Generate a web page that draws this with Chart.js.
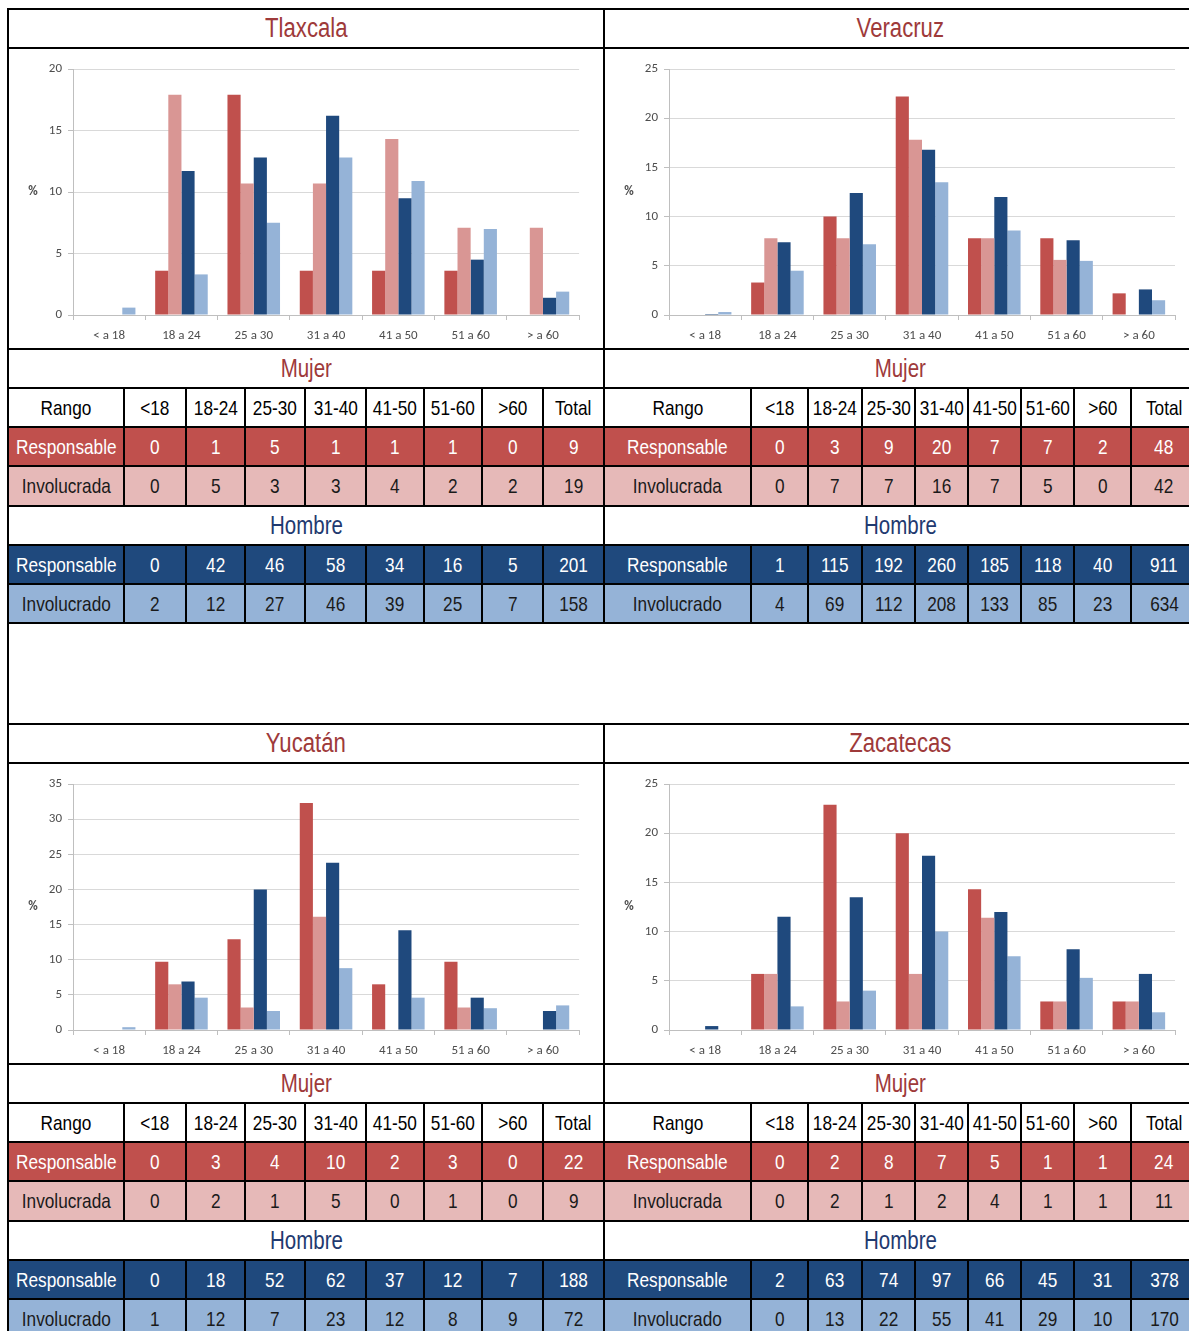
<!DOCTYPE html>
<html lang="es">
<head>
<meta charset="UTF-8">
<script src="https://cdn.jsdelivr.net/npm/chart.js"></script>
<title>Responsables e involucrados por rango de edad</title>
<style>
    html, body {
        margin: 0;
        padding: 0;
        overflow: hidden;
        background: #fff;
    }
    #sheet {
        position: absolute;
        left: 7px;
        top: 8px;
        border-collapse: collapse;
        table-layout: fixed;
        width: 1191px;
        font-family: "Liberation Sans", Arial, sans-serif;
        font-size: 21px;
    }
    #sheet td {
        border: 2px solid #000;
        padding: 0;
        text-align: center;
        vertical-align: middle;
        white-space: nowrap;
        overflow: hidden;
    }
    /* letra angosta tipo Arial Narrow */
    #sheet td span {
        display: inline-block;
        margin: 0 -30px;
        transform: scaleX(0.82);
    }
    #sheet tr.row39 td { height: 37px; }
    #sheet tr.row40 td { height: 38px; }
    #sheet tr.chartrow td { height: 299px; }
    #sheet td.title { font-size: 27px; color: #9e3a3a; }
    #sheet td.mujer { font-size: 25px; color: #9e3a3a; }
    #sheet td.hombre { font-size: 25px; color: #1f3a70; }
    #sheet tr.mr td { background: #c0504d; color: #fff; }
    #sheet tr.mi td { background: #e6b9b8; color: #1a1a1a; }
    #sheet tr.hr td { background: #1f497d; color: #fff; }
    #sheet tr.hi td { background: #95b3d7; color: #1a1a1a; }
    #sheet td.gap {
        height: 99px;
        border-top: none;
        border-bottom: none;
    }
    .chartbox {
        position: relative;
        width: 100%;
        height: 299px;
    }
</style>
</head>
<body>
<table id="sheet">
    <colgroup>
        <col style="width:116px"><col style="width:62px"><col style="width:59px"><col style="width:60px"><col style="width:61px">
        <col style="width:58px"><col style="width:58px"><col style="width:61px"><col style="width:61px">
        <col style="width:147px"><col style="width:57px"><col style="width:54px"><col style="width:53px"><col style="width:53px">
        <col style="width:53px"><col style="width:53px"><col style="width:57px"><col style="width:66px">
    </colgroup>
    <tbody id="sheetBody"></tbody>
</table>

<script>
// categorias de la grafica y encabezados de la tabla
const categories = ['< a 18', '18 a 24', '25 a 30', '31 a 40', '41 a 50', '51 a 60', '> a 60'];
const rangeLabels = ['<18', '18-24', '25-30', '31-40', '41-50', '51-60', '>60'];

const tlaxcalaMujerResp   = [0, 3.6, 17.9, 3.6, 3.6, 3.6, 0];
const tlaxcalaMujerInv    = [0, 17.9, 10.7, 10.7, 14.3, 7.1, 7.1];
const tlaxcalaHombreResp  = [0, 11.7, 12.8, 16.2, 9.5, 4.5, 1.4];
const tlaxcalaHombreInv   = [0.6, 3.3, 7.5, 12.8, 10.9, 7.0, 1.9];

const veracruzMujerResp   = [0, 3.3, 10.0, 22.2, 7.8, 7.8, 2.2];
const veracruzMujerInv    = [0, 7.8, 7.8, 17.8, 7.8, 5.6, 0];
const veracruzHombreResp  = [0.1, 7.4, 12.4, 16.8, 12.0, 7.6, 2.6];
const veracruzHombreInv   = [0.3, 4.5, 7.2, 13.5, 8.6, 5.5, 1.5];

const yucatanMujerResp    = [0, 9.7, 12.9, 32.3, 6.5, 9.7, 0];
const yucatanMujerInv     = [0, 6.5, 3.2, 16.1, 0, 3.2, 0];
const yucatanHombreResp   = [0, 6.9, 20.0, 23.8, 14.2, 4.6, 2.7];
const yucatanHombreInv    = [0.4, 4.6, 2.7, 8.8, 4.6, 3.1, 3.5];

const zacatecasMujerResp  = [0, 5.7, 22.9, 20.0, 14.3, 2.9, 2.9];
const zacatecasMujerInv   = [0, 5.7, 2.9, 5.7, 11.4, 2.9, 2.9];
const zacatecasHombreResp = [0.4, 11.5, 13.5, 17.7, 12.0, 8.2, 5.7];
const zacatecasHombreInv  = [0, 2.4, 4.0, 10.0, 7.5, 5.3, 1.8];

// conteos de las tablas (ultimo valor = Total)
const tlaxcalaCountMR  = [0, 1, 5, 1, 1, 1, 0, 9];
const tlaxcalaCountMI  = [0, 5, 3, 3, 4, 2, 2, 19];
const tlaxcalaCountHR  = [0, 42, 46, 58, 34, 16, 5, 201];
const tlaxcalaCountHI  = [2, 12, 27, 46, 39, 25, 7, 158];

const veracruzCountMR  = [0, 3, 9, 20, 7, 7, 2, 48];
const veracruzCountMI  = [0, 7, 7, 16, 7, 5, 0, 42];
const veracruzCountHR  = [1, 115, 192, 260, 185, 118, 40, 911];
const veracruzCountHI  = [4, 69, 112, 208, 133, 85, 23, 634];

const yucatanCountMR   = [0, 3, 4, 10, 2, 3, 0, 22];
const yucatanCountMI   = [0, 2, 1, 5, 0, 1, 0, 9];
const yucatanCountHR   = [0, 18, 52, 62, 37, 12, 7, 188];
const yucatanCountHI   = [1, 12, 7, 23, 12, 8, 9, 72];

const zacatecasCountMR = [0, 2, 8, 7, 5, 1, 1, 24];
const zacatecasCountMI = [0, 2, 1, 2, 4, 1, 1, 11];
const zacatecasCountHR = [2, 63, 74, 97, 66, 45, 31, 378];
const zacatecasCountHI = [0, 13, 22, 55, 41, 29, 10, 170];

const yMax = { tlaxcala: 20, veracruz: 25, yucatan: 35, zacatecas: 25 };

const states = [
    { id: 'tlaxcala', name: 'Tlaxcala', side: 'left',
      pct: [tlaxcalaMujerResp, tlaxcalaMujerInv, tlaxcalaHombreResp, tlaxcalaHombreInv],
      counts: [tlaxcalaCountMR, tlaxcalaCountMI, tlaxcalaCountHR, tlaxcalaCountHI] },
    { id: 'veracruz', name: 'Veracruz', side: 'right',
      pct: [veracruzMujerResp, veracruzMujerInv, veracruzHombreResp, veracruzHombreInv],
      counts: [veracruzCountMR, veracruzCountMI, veracruzCountHR, veracruzCountHI] },
    { id: 'yucatan', name: 'Yucatán', side: 'left',
      pct: [yucatanMujerResp, yucatanMujerInv, yucatanHombreResp, yucatanHombreInv],
      counts: [yucatanCountMR, yucatanCountMI, yucatanCountHR, yucatanCountHI] },
    { id: 'zacatecas', name: 'Zacatecas', side: 'right',
      pct: [zacatecasMujerResp, zacatecasMujerInv, zacatecasHombreResp, zacatecasHombreInv],
      counts: [zacatecasCountMR, zacatecasCountMI, zacatecasCountHR, zacatecasCountHI] }
];

const barColors = ['#c0504d', '#d99694', '#1f497d', '#95b3d7'];

function cells(values) {
    return values.map(v => `<td><span>${v}</span></td>`).join('');
}

function buildBlock(a, b) {
    const pair = [a, b];
    let html = '';
    html += '<tr class="row39">' + pair.map(s => `<td colspan="9" class="title"><span>${s.name}</span></td>`).join('') + '</tr>';
    html += '<tr class="chartrow">' + pair.map(s =>
        `<td colspan="9"><div class="chartbox"><canvas id="c-${s.id}"></canvas></div></td>`).join('') + '</tr>';
    html += '<tr class="row39">' + pair.map(() => '<td colspan="9" class="mujer"><span>Mujer</span></td>').join('') + '</tr>';
    html += '<tr class="row39">' + pair.map(() => cells(['Rango', ...rangeLabels, 'Total'])).join('') + '</tr>';
    html += '<tr class="row39 mr">' + pair.map(s => cells(['Responsable', ...s.counts[0]])).join('') + '</tr>';
    html += '<tr class="row40 mi">' + pair.map(s => cells(['Involucrada', ...s.counts[1]])).join('') + '</tr>';
    html += '<tr class="row39">' + pair.map(() => '<td colspan="9" class="hombre"><span>Hombre</span></td>').join('') + '</tr>';
    html += '<tr class="row39 hr">' + pair.map(s => cells(['Responsable', ...s.counts[2]])).join('') + '</tr>';
    html += '<tr class="row39 hi">' + pair.map(s => cells(['Involucrado', ...s.counts[3]])).join('') + '</tr>';
    return html;
}

document.getElementById('sheetBody').innerHTML =
    buildBlock(states[0], states[1]) +
    '<tr><td colspan="18" class="gap"></td></tr>' +
    buildBlock(states[2], states[3]);

// "%" horizontal a la izquierda del eje y
const percentLabel = {
    id: 'percentLabel',
    afterDraw(chart) {
        const ctx = chart.ctx;
        const area = chart.chartArea;
        ctx.save();
        ctx.font = 'bold 13px Carlito, Lato, sans-serif';
        ctx.fillStyle = '#4d4d4d';
        ctx.textAlign = 'center';
        ctx.textBaseline = 'middle';
        ctx.fillText('%', 24, (area.top + area.bottom) / 2);
        ctx.restore();
    }
};

const tickFont = { family: 'Carlito, Lato, sans-serif', size: 13 };

states.forEach(s => {
    const ctx = document.getElementById('c-' + s.id).getContext('2d');
    // el panel derecho es mas angosto
    const padRight = s.side === 'left' ? 24 : 21;
    new Chart(ctx, {
        type: 'bar',
        data: {
            labels: categories,
            datasets: s.pct.map((vals, i) => ({
                data: vals,
                backgroundColor: barColors[i],
                borderWidth: 0,
                categoryPercentage: 0.727,
                barPercentage: 1.0
            }))
        },
        plugins: [percentLabel],
        options: {
            responsive: true,
            maintainAspectRatio: false,
            animation: false,
            layout: {
                padding: { left: 0, top: 20, right: padRight, bottom: 0 }
            },
            plugins: {
                legend: { display: false },
                tooltip: { enabled: false }
            },
            scales: {
                x: {
                    offset: true,
                    afterFit: sc => { sc.height = 33; },
                    grid: {
                        display: true,
                        offset: true,
                        drawOnChartArea: false,
                        drawTicks: true,
                        tickLength: 5,
                        color: '#bfbfbf'
                    },
                    border: { display: true, color: '#bfbfbf' },
                    ticks: { font: tickFont, color: '#4d4d4d', padding: 8, maxRotation: 0 }
                },
                y: {
                    min: 0,
                    max: yMax[s.id],
                    afterFit: sc => { sc.width = 64; },
                    grid: { color: '#d9d9d9', tickColor: '#bfbfbf', tickLength: 5 },
                    border: { display: true, color: '#bfbfbf' },
                    ticks: { stepSize: 5, font: tickFont, color: '#4d4d4d', padding: 6 }
                }
            }
        }
    });
});
</script>
</body>
</html>
